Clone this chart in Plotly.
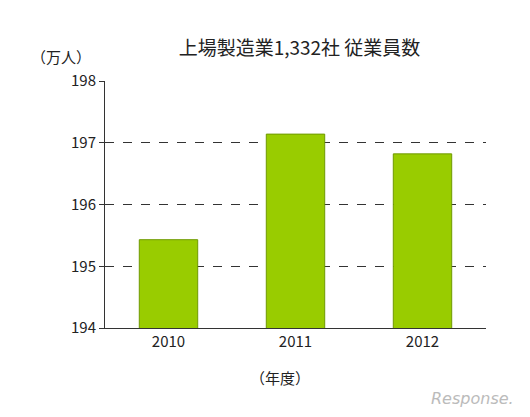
import plotly.graph_objects as go

# データ
years = ['2010', '2011', '2012']
employees = [195.43, 197.14, 196.82]
y_ticks = [194, 195, 196, 197, 198]

fig = go.Figure()
fig.add_trace(go.Bar(
    x=years, y=employees,
    marker=dict(color='#99cc00', line=dict(color='#6f9a00', width=1)),
    width=0.46,
))

font_jp = 'Noto Sans CJK JP'
fig.update_layout(
    width=530, height=417,
    paper_bgcolor='white', plot_bgcolor='white',
    margin=dict(l=97, r=52, t=73, b=97),
    showlegend=False,
    font=dict(family=font_jp, size=15, color='#222'),
    title=dict(text='上場製造業1,332社 従業員数', x=0.55, y=0.92,
               xanchor='center', font=dict(size=19, family=font_jp)),
    xaxis=dict(showline=True, linecolor='#333', linewidth=1, ticks='',
               tickfont=dict(size=15)),
    yaxis=dict(range=[194, 198], tickvals=y_ticks, showline=True, linecolor='#333',
               linewidth=1, ticks='outside', ticklen=5, tickcolor='#333',
               showgrid=True, gridcolor='#333', griddash='dash', gridwidth=1,
               tickfont=dict(size=15)),
    bargap=0.5,
)
fig.add_annotation(text='（万人）', xref='paper', yref='paper', x=-0.2, y=1.05,
                   xanchor='left', yanchor='bottom', showarrow=False, font=dict(size=15))
fig.add_annotation(text='（年度）', xref='paper', yref='paper', x=0.46, y=-0.15,
                   xanchor='center', yanchor='top', showarrow=False, font=dict(size=15))
fig.add_annotation(text='<i>Response.</i>', xref='paper', yref='paper', x=1.08, y=-0.24,
                   xanchor='right', yanchor='top', showarrow=False,
                   font=dict(size=16, color='#bbbbbb', family='DejaVu Sans'))
fig.write_html('out.html')
